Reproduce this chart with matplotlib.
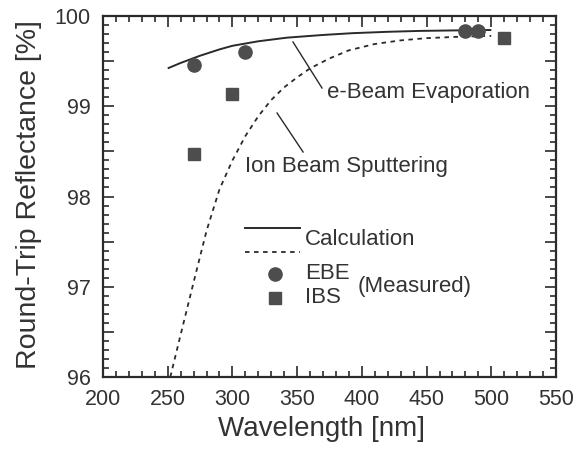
import matplotlib
matplotlib.use("Agg")
import matplotlib.pyplot as plt
from matplotlib.ticker import MultipleLocator, FuncFormatter

plt.rcParams['font.family'] = ['Liberation Sans', 'DejaVu Sans']

# Calculated round-trip reflectance curves
ebe_calc_wl = [250, 260, 275, 290, 300, 320, 342, 370, 393, 420, 445, 470, 500]
ebe_calc_r = [99.42, 99.48, 99.56, 99.63, 99.67, 99.72, 99.76, 99.79, 99.81,
              99.825, 99.835, 99.84, 99.845]

ibs_calc_wl = [252, 260, 270, 280, 290, 300, 310, 320, 330, 340, 350, 360,
               375, 390, 410, 430, 450, 475, 500]
ibs_calc_r = [96.0, 96.47, 97.05, 97.62, 98.08, 98.40, 98.67, 98.89, 99.07,
              99.21, 99.32, 99.42, 99.53, 99.62, 99.69, 99.73, 99.755, 99.77,
              99.78]

# Measured points
ebe_meas_wl = [270, 310, 480, 490]
ebe_meas_r = [99.46, 99.60, 99.83, 99.83]

ibs_meas_wl = [270, 300, 510]
ibs_meas_r = [98.47, 99.14, 99.76]

xticks = [200, 250, 300, 350, 400, 450, 500, 550]
yticks = [96, 97, 98, 99, 100]

ink = '#2a2a2a'
text_c = '#333333'
mark_c = '#4d4d4d'

fig = plt.figure(figsize=(5.8, 4.51), dpi=100)
ax = fig.add_axes([0.1776, 0.1641, 0.7810, 0.8004])

ax.plot(ebe_calc_wl, ebe_calc_r, color=ink, lw=1.4, solid_capstyle='butt')
ax.plot(ibs_calc_wl, ibs_calc_r, color=ink, lw=1.3, linestyle=(0, (2.5, 2.5)))
ax.plot(ebe_meas_wl, ebe_meas_r, 'o', color=mark_c, ms=9.5, mec=mark_c)
ax.plot(ibs_meas_wl, ibs_meas_r, 's', color=mark_c, ms=8.5, mec=mark_c)

ax.set_xlim(200, 550)
ax.set_ylim(96, 100)
ax.set_xticks(xticks)
ax.xaxis.set_minor_locator(MultipleLocator(10))
ax.yaxis.set_major_locator(MultipleLocator(0.5))
ax.yaxis.set_minor_locator(MultipleLocator(0.1))
ax.yaxis.set_major_formatter(FuncFormatter(
    lambda v, p: f"{int(round(v))}" if round(v) in yticks and abs(v - round(v)) < 1e-6 else ""))

ax.tick_params(which='both', direction='in', top=True, right=True,
               colors=ink, width=1.2)
ax.tick_params(which='major', length=8)
ax.tick_params(which='minor', length=4)
ax.tick_params(axis='both', labelsize=15.5, labelcolor=text_c)
ax.tick_params(axis='y', pad=9)
ax.tick_params(axis='x', pad=9)
for s in ax.spines.values():
    s.set_linewidth(1.6)
    s.set_color(ink)

ax.set_xlabel('Wavelength [nm]', fontsize=20, color=text_c)
ax.set_ylabel('Round-Trip Reflectance [%]', fontsize=20.5, color=text_c)
ax.xaxis.set_label_coords(0.483, -0.108)
ax.yaxis.set_label_coords(-0.135, 0.504)

# Curve annotations with leader lines
ax.plot([346.8, 369.2], [99.712, 99.202], color=ink, lw=1.0)
ax.text(373.1, 99.147, 'e-Beam Evaporation', fontsize=16, color=text_c,
        ha='left', va='center')
ax.plot([334.5, 354.6], [98.925, 98.493], color=ink, lw=1.0)
ax.text(309.7, 98.327, 'Ion Beam Sputtering', fontsize=16, color=text_c,
        ha='left', va='center')

# Key
tr = ax.transAxes
ax.plot([0.313, 0.435], [0.413, 0.413], color=ink, lw=1.4, transform=tr)
ax.plot([0.313, 0.435], [0.346, 0.346], color=ink, lw=1.3,
        linestyle=(0, (2.5, 2.5)), transform=tr)
ax.text(0.446, 0.380, 'Calculation', fontsize=16, color=text_c,
        ha='left', va='center', transform=tr)
ax.plot([0.380], [0.286], 'o', color=mark_c, ms=9.5, transform=tr)
ax.plot([0.380], [0.219], 's', color=mark_c, ms=8.5, transform=tr)
ax.text(0.446, 0.286, 'EBE', fontsize=16, color=text_c,
        ha='left', va='center', transform=tr)
ax.text(0.446, 0.219, 'IBS', fontsize=16, color=text_c,
        ha='left', va='center', transform=tr)
ax.text(0.563, 0.252, '(Measured)', fontsize=16, color=text_c,
        ha='left', va='center', transform=tr)

fig.savefig('out.png', dpi=100)
